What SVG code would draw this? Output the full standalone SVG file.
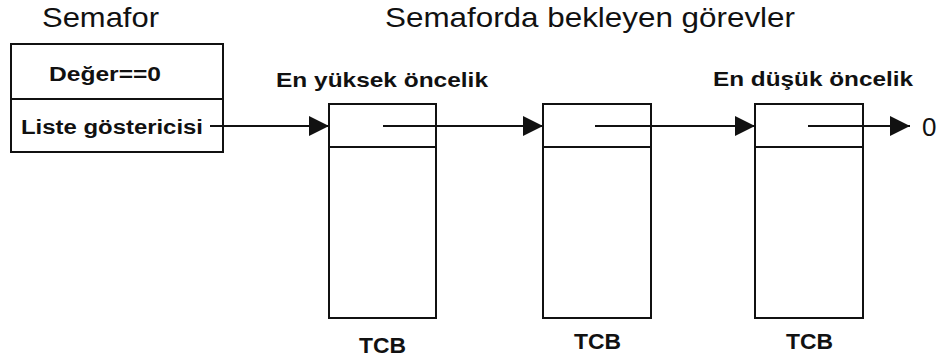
<svg xmlns="http://www.w3.org/2000/svg" width="946" height="364" viewBox="0 0 946 364">
  <style>
    .box { fill: #fff; stroke: #111; stroke-width: 2; }
    .sep { stroke: #111; stroke-width: 2; }
    .link { stroke: #111; stroke-width: 2; fill: none; }
    .title { font-family: "Liberation Sans", Arial, sans-serif; font-size: 28px; fill: #111; }
    .field { font-family: "Liberation Sans", Arial, sans-serif; font-size: 20px; font-weight: bold; fill: #111; }
    .prio { font-family: "Liberation Sans", Arial, sans-serif; font-size: 21px; font-weight: bold; fill: #111; }
    .tcb { font-family: "Liberation Sans", Arial, sans-serif; font-size: 22px; font-weight: bold; fill: #111; }
    .nil { font-family: "Liberation Sans", Arial, sans-serif; font-size: 26px; fill: #111; }
  </style>
  <defs>
    <marker id="arrow" viewBox="0 0 20 20" refX="20" refY="10" markerWidth="20" markerHeight="20" markerUnits="userSpaceOnUse" orient="auto">
      <path d="M0,0 L20,10 L0,20 Z" fill="#111"/>
    </marker>
  </defs>
  <rect width="946" height="364" fill="#fff"/>

  <text class="title" x="42" y="27" textLength="117" lengthAdjust="spacingAndGlyphs">Semafor</text>
  <text class="title" x="385" y="27" textLength="410" lengthAdjust="spacingAndGlyphs">Semaforda bekleyen görevler</text>

  <g id="semafor">
    <rect class="box" x="11" y="44" width="212" height="108"/>
    <line class="sep" x1="11" y1="99" x2="223" y2="99"/>
    <text class="field" x="49" y="81" textLength="112" lengthAdjust="spacingAndGlyphs">Değer==0</text>
    <text class="field" x="21" y="134" textLength="182" lengthAdjust="spacingAndGlyphs">Liste göstericisi</text>
  </g>

  <g id="tcb1">
    <rect class="box" x="329" y="104" width="107" height="214"/>
    <line class="sep" x1="329" y1="147" x2="436" y2="147"/>
    <text class="prio" x="276" y="87" textLength="212" lengthAdjust="spacingAndGlyphs">En yüksek öncelik</text>
    <text class="tcb" x="359" y="353" textLength="47" lengthAdjust="spacingAndGlyphs">TCB</text>
  </g>

  <g id="tcb2">
    <rect class="box" x="543" y="104" width="108" height="214"/>
    <line class="sep" x1="543" y1="147" x2="651" y2="147"/>
    <text class="tcb" x="574" y="349" textLength="47" lengthAdjust="spacingAndGlyphs">TCB</text>
  </g>

  <g id="tcb3">
    <rect class="box" x="755" y="104" width="108" height="214"/>
    <line class="sep" x1="755" y1="147" x2="863" y2="147"/>
    <text class="prio" x="713" y="86" textLength="200" lengthAdjust="spacingAndGlyphs">En düşük öncelik</text>
    <text class="tcb" x="786" y="349" textLength="47" lengthAdjust="spacingAndGlyphs">TCB</text>
  </g>

  <g id="connectors">
    <line class="link" x1="210" y1="126" x2="329" y2="126" marker-end="url(#arrow)"/>
    <line class="link" x1="383" y1="126" x2="543" y2="126" marker-end="url(#arrow)"/>
    <line class="link" x1="595" y1="126" x2="755" y2="126" marker-end="url(#arrow)"/>
    <line class="link" x1="808" y1="126" x2="910" y2="126" marker-end="url(#arrow)"/>
  </g>
  <text class="nil" x="922" y="136">0</text>
</svg>
